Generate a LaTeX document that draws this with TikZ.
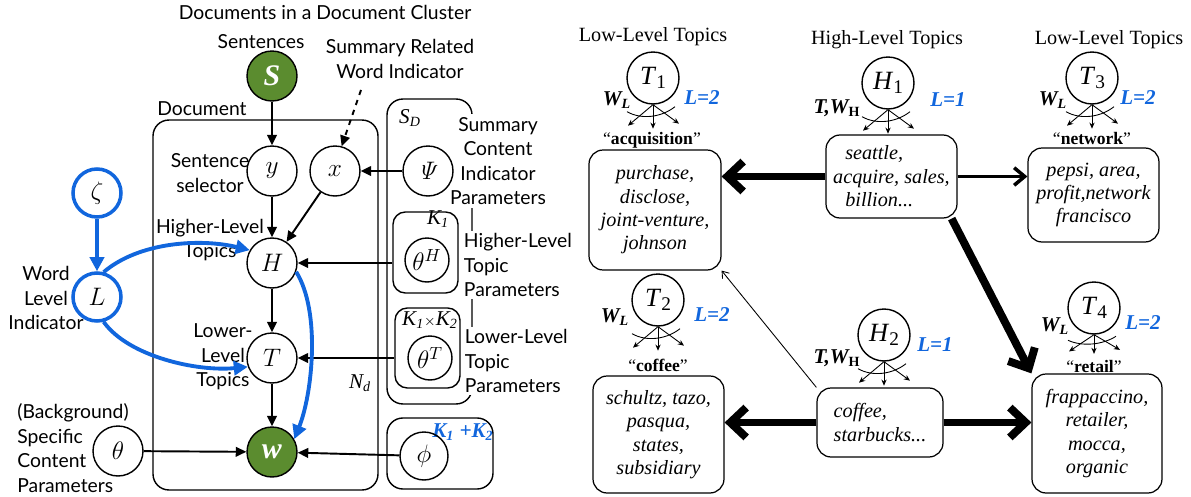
\documentclass[tikz,border=0pt]{standalone}
\usepackage[no-math]{fontspec}
\setmainfont{Liberation Serif}
\setsansfont{Lato}
\usepackage{xcolor}
\usetikzlibrary{arrows.meta}

\definecolor{docgreen}{RGB}{91,140,47}
\definecolor{levelblue}{RGB}{17,102,221}

\newcommand{\topicname}[2]{\textit{#1}\raisebox{-0.35ex}{\fontsize{11}{11}\selectfont #2}}
\newcommand{\wordfan}[2][1]{%
	\draw [fanarrow] (#2.south) -- ++(-25,{21*#1});
	\draw [fanarrow] (#2.south) -- ++(0,{24*#1});
	\draw [fanarrow] (#2.south) -- ++(26,{19*#1});
	\draw [line width=0.5pt] ([shift={(-26,{7*#1})}]#2.south) .. controls +(14,{8*#1}) and +(-14,{11*#1}) .. ([shift={(22,{2*#1})}]#2.south);
}

\begin{document}
\begin{tikzpicture}[x=0.02cm, y=-0.02cm,
	var/.style={circle, draw, line width=0.8pt, minimum size=1cm, inner sep=0pt, font=\fontsize{14}{16}\selectfont},
	obs/.style={var, fill=docgreen, text=white, font=\fontsize{17}{18}\selectfont},
	levelvar/.style={var, draw=levelblue, line width=2pt},
	plate/.style={rectangle, rounded corners=9pt, draw, line width=0.8pt},
	lbl/.style={font=\sffamily\fontsize{11}{14}\selectfont, align=center, inner sep=0pt},
	sidelbl/.style={lbl, align=left, anchor=west, fill=white, inner sep=1.5pt},
	idx/.style={font=\fontsize{12}{13}\selectfont\itshape, inner sep=0pt},
	link/.style={line width=1.1pt, -{Triangle[length=6pt,width=5.5pt]}},
	levellink/.style={draw=levelblue, line width=2.2pt, -{Triangle[length=8pt,width=8pt]}},
	topic/.style={circle, draw, line width=0.8pt, minimum size=1.04cm, inner sep=0pt, font=\fontsize{15}{16}\selectfont},
	wordbox/.style={rectangle, rounded corners=8pt, draw, line width=0.7pt, align=center, inner sep=0pt, font=\fontsize{11.5}{13.3}\selectfont\itshape},
	toplbl/.style={font=\fontsize{11.5}{13}\selectfont, inner sep=0pt},
	wlbl/.style={font=\fontsize{12}{13}\selectfont\bfseries\itshape, inner sep=0pt},
	llbl/.style={wlbl, text=levelblue},
	wordtag/.style={font=\fontsize{10}{11}\selectfont, inner sep=0pt},
	heavy/.style={line width=4.5pt, -{Straight Barb[length=9pt,width=17pt]}},
	medium/.style={line width=2pt, -{Straight Barb[length=6pt,width=10pt]}},
	faint/.style={line width=0.5pt, -{Straight Barb[length=3.5pt,width=5pt]}},
	fanarrow/.style={line width=0.5pt, -{Stealth[length=3.5pt,width=3pt]}}]
	%\draw[help lines] (0,0) grid (1191,497);
	\useasboundingbox (0,0) rectangle (1191,497);

	% plates
	\node (docplate) [plate, minimum width=4.5cm, minimum height=7.4cm] at (265.5,305) {};
	\node (sdplate) [plate, minimum width=1.7cm, minimum height=6.1cm] at (429.5,251.5) {};
	\node (khplate) [plate, rounded corners=7pt, minimum width=1.3cm, minimum height=1.62cm] at (425.5,252.5) {};
	\node (ktplate) [plate, rounded corners=7pt, minimum width=1.3cm, minimum height=1.6cm] at (427.5,348) {};
	\node (phiplate) [plate, minimum width=2.12cm, minimum height=1.42cm] at (440,453.5) {};

	% labels of the model
	\node (title) [lbl] at (325,12) {Documents in a Document Cluster};
	\node (sentlbl) [lbl] at (261,42) {Sentences};
	\node (doclbl) [lbl] at (202,109) {Document};
	\node (sellbl) [lbl] at (210,173) {Sentence\\selector};
	\node (hilbl) [lbl] at (210,240) {Higher-Level\\Topics};
	\node (lolbl) [lbl] at (223,357) {Lower-\\Level\\Topics};
	\node (wlilbl) [lbl] at (46,298) {Word\\Level\\Indicator};
	\node (bglbl) [lbl, align=left, anchor=west] at (17,448) {(Background)\\Specific\\Content\\Parameters};
	\node (srwlbl) [lbl] at (400,59) {Summary Related\\Word Indicator};
	\node (sclbl) [lbl, fill=white, inner sep=1.5pt] at (498,161) {Summary\\Content\\Indicator\\Parameters};
	\node (htlbl) [sidelbl] at (461,265) {Higher-Level\\Topic\\Parameters};
	\node (ltlbl) [sidelbl] at (462,361) {Lower-Level\\Topic\\Parameters};
	\node (sdlbl) [idx] at (410,118) {S\textsubscript{D}};
	\node (ndlbl) [idx] at (360,383) {N\textsubscript{d}};
	\node (k1lbl) [idx] at (438,219) {K\textsubscript{1}};
	\node (k12lbl) [idx] at (430,320) {K\textsubscript{1}{\fontsize{8}{9}\selectfont$\times$}K\textsubscript{2}};
	\node (kpluslbl) [idx, font=\fontsize{12}{13}\selectfont\bfseries\itshape, text=levelblue] at (463,432) {K\textsubscript{1} +K\textsubscript{2}};

	% variables
	\node (S) [obs] at (272,76) {\textbf{\textit{S}}};
	\node (y) [var] at (272,171) {$y$};
	\node (x) [var] at (335,171) {$x$};
	\node (psi) [var] at (428,171) {$\mathit{\Psi}$};
	\node (H) [var] at (272,263) {$H$};
	\node (thetaH) [var, minimum size=0.88cm] at (427,260) {$\theta^{H}$};
	\node (T) [var] at (272,358) {$T$};
	\node (thetaT) [var, minimum size=0.88cm] at (430,358) {$\theta^{T}$};
	\node (w) [obs] at (272,452) {\textbf{\textit{w}}};
	\node (phi) [var, minimum size=0.96cm] at (424,456) {$\phi$};
	\node (theta) [var] at (118,451) {$\theta$};
	\node (zeta) [levelvar, minimum size=0.96cm] at (97,193) {$\zeta$};
	\node (L) [levelvar, minimum size=0.96cm] at (97,297) {$L$};

	\draw [link] (S) -- (y);
	\draw [link] (y) -- (H);
	\draw [link] (x) -- (H);
	\draw [link] (H) -- (T);
	\draw [link] (T) -- (w);
	\draw [link] (psi) -- (x);
	\draw [link] (khplate.west |- H) -- (H);
	\draw [link] (ktplate.west |- T) -- (T);
	\draw [link] (phi) -- (w);
	\draw [link] (theta) -- (w);
	\coordinate (hint) at (361,90);
	\draw [link, dashed] (hint) -- (x.75);
	\draw [levellink] (zeta) -- (L);
	\draw [levellink] (L.75) .. controls +(35,-30) and +(-50,-12) .. (H.150);
	\draw [levellink] (L.-75) .. controls +(25,35) and +(-50,5) .. (T.200);
	\draw [levellink] (H.-20) .. controls +(25,40) and +(18,-45) .. (w.30);

	% topic example
	\node (lowhead1) [toplbl] at (653,37) {Low-Level Topics};
	\node (highhead) [toplbl] at (887,40) {High-Level Topics};
	\node (lowhead2) [toplbl] at (1109,40) {Low-Level Topics};

	\node (t1) [topic] at (653,78) {\topicname{T}{1}};
	\node (h1) [topic] at (888,83) {\topicname{H}{1}};
	\node (t3) [topic] at (1092,78) {\topicname{T}{3}};
	\node (t2) [topic] at (658,300) {\topicname{T}{2}};
	\node (h2) [topic] at (884,335) {\topicname{H}{2}};
	\node (t4) [topic] at (1094,308) {\topicname{T}{4}};

	\wordfan{t1}
	\wordfan{h1}
	\wordfan{t3}
	\wordfan{t2}
	\wordfan{h2}
	\wordfan[0.8]{t4}

	\node (wl1) [wlbl] at (617,100) {W\textsubscript{L}};
	\node (l1) [llbl] at (702,98) {L=2};
	\node (wh1) [wlbl] at (837,108) {T,W\textsubscript{\upshape H}};
	\node (l2) [llbl] at (948,100) {L=1};
	\node (wl3) [wlbl] at (1053,100) {W\textsubscript{L}};
	\node (l3) [llbl] at (1138,98) {L=2};
	\node (wl2) [wlbl] at (615,317) {W\textsubscript{L}};
	\node (l4) [llbl] at (712,315) {L=2};
	\node (wh2) [wlbl] at (837,358) {T,W\textsubscript{\upshape H}};
	\node (l5) [llbl] at (935,345) {L=1};
	\node (wl4) [wlbl] at (1055,326) {W\textsubscript{L}};
	\node (l6) [llbl] at (1143,323) {L=2};

	\node (tag1) [wordtag] at (652,140) {“\textbf{acquisition}”};
	\node (tag3) [wordtag] at (1092,138) {“\textbf{network}”};
	\node (tag2) [wordtag] at (658,365) {“\textbf{coffee}”};
	\node (tag4) [wordtag] at (1094,366) {“\textbf{retail}”};

	\node (b1) [wordbox, minimum width=2.64cm, minimum height=2.4cm] at (655,210) {purchase,\\disclose,\\joint-venture,\\johnson};
	\node (bh1) [wordbox, align=left, minimum width=2.62cm, minimum height=1.66cm] at (891.5,176.5) {\hspace*{1.3ex}seattle,\\acquire, sales,\\\hspace*{1.3ex}billion...};
	\node (b3) [wordbox, minimum width=2.62cm, minimum height=1.88cm] at (1093.5,195) {pepsi, area,\\profit,network\\francisco};
	\node (b2) [wordbox, minimum width=2.62cm, minimum height=2.34cm] at (658.5,434.5) {schultz, tazo,\\pasqua,\\states,\\subsidiary};
	\node (bh2) [wordbox, align=left, minimum width=2.52cm, minimum height=1.38cm] at (880,422.5) {coffee,\\starbucks...};
	\node (b4) [wordbox, minimum width=2.6cm, minimum height=2.38cm] at (1097,433.5) {frappaccino,\\retailer,\\mocca,\\organic};

	\draw [heavy] (bh1.west) -- (bh1.west -| b1.east);
	\draw [medium] (bh1.east) -- (bh1.east -| b3.west);
	\draw [heavy] (bh1.-35) -- (b4.north west);
	\draw [faint] (bh2.north west) -- (b1.south east);
	\draw [heavy] (bh2.west) -- (bh2.west -| b2.east);
	\draw [heavy] (bh2.east) -- (bh2.east -| b4.west);
\end{tikzpicture}
\end{document}
